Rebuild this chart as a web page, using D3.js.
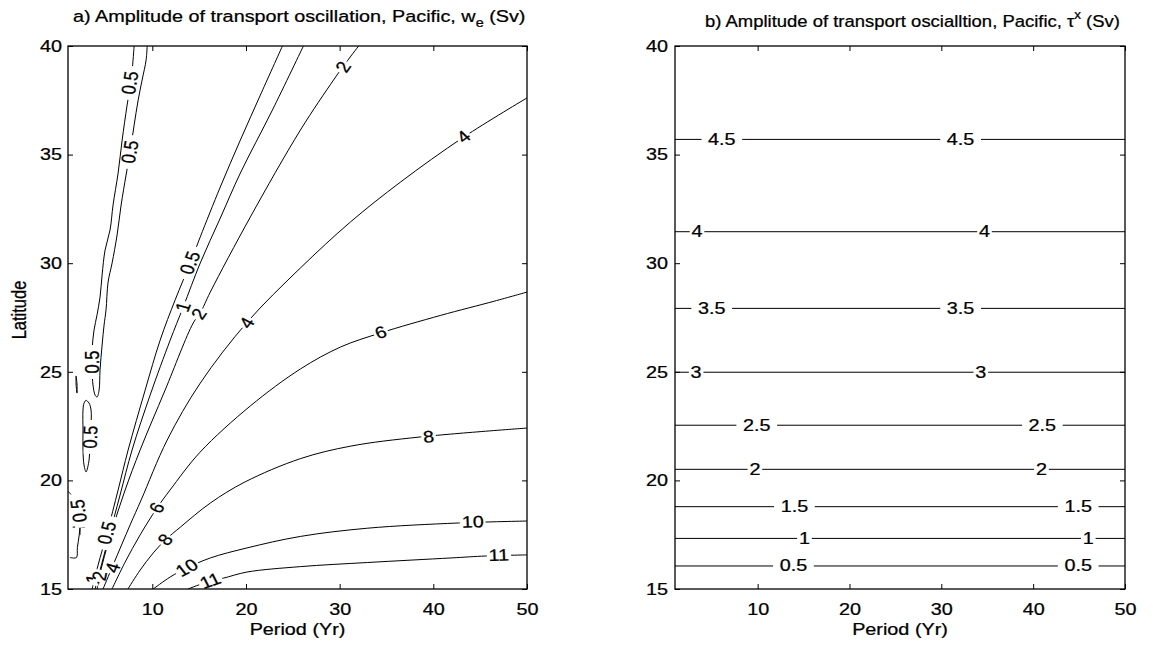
<!DOCTYPE html>
<html lang="en">
<head>
<meta charset="UTF-8">
<title>Amplitude of transport oscillation</title>
<script src="https://cdn.jsdelivr.net/npm/d3@7"></script>
<style>
  body { margin: 0; background: #fff; }
  svg { display: block; }
  text { font-family: "Liberation Sans", Arial, Helvetica, sans-serif; font-size: 16.5px; fill: #000; stroke: #000; stroke-width: 0.25px; }
</style>
</head>
<body>
<svg id="chart" width="1153" height="647"></svg>
<script>
// axes ticks
const periodTicks = [10, 20, 30, 40, 50];
const latTicks = [15, 20, 25, 30, 35, 40];

// panel a) contour lines, [period (yr), latitude]
const c05Tongue = [[8.06,40],[7.74,38.43],[7.31,37.28],[6.78,35.67],[6.35,34.15],[5.81,32.68],[5.49,31.53],[4.96,30.61],[4.64,29.46],[4.42,28.44],[4.1,27.62],[3.78,26.92],[3.57,26.0],[3.57,25.08],[3.67,24.39],[3.89,23.93],[4.1,23.84],[4.32,24.16],[4.42,25.08],[4.64,26.23],[4.85,27.15],[5.06,27.85],[5.28,29.13],[5.71,30.01],[6.24,31.3],[6.67,32.68],[7.2,34.06],[7.63,35.12],[8.06,36.36],[8.49,37.51],[8.91,38.43],[9.34,39.36],[9.45,40]];
const c05Dash = [[1.86,24.81],[1.96,24.44],[1.96,24.02],[1.86,24.44],[1.86,24.81]];
const c05Loop = [[2.93,23.7],[3.25,23.56],[3.46,23.24],[3.46,22.55],[3.35,21.63],[3.25,20.94],[2.93,20.39],[2.71,20.71],[2.6,21.4],[2.6,22.32],[2.6,23.24],[2.71,23.56],[2.93,23.7]];
const c05Edge = [[1,19.5],[1.6,19.2],[2.1,18.7],[2.3,18.1],[2.2,17.5],[2.0,16.9],[1.9,16.45],[1.2,16.45]];
const crossH = [[1.5,17.85],[2.8,17.85]];
const crossV = [[2.28,18.27],[2.28,17.49]];
const c05 = [[3.57,15],[4.21,16.1],[5.17,17.58],[6.35,19.56],[7.42,21.4],[9.24,24.16],[10.84,26.46],[12.44,28.31],[14.05,30.01],[15.12,31.21],[17.26,33.51],[19.4,35.67],[21.64,37.84],[23.89,40]];
const c1 = [[3.89,15],[4.42,15.87],[5.28,17.26],[6.56,19.33],[7.84,21.4],[9.77,23.93],[11.91,26.46],[13.3,27.98],[15.12,30.01],[17.26,32.08],[19.4,34.15],[22.82,37.05],[26.13,40]];
const c2 = [[4.1,15],[4.64,16.1],[5.71,17.72],[7.1,19.56],[8.7,21.4],[11.37,24.16],[14.37,27.25],[15.12,27.71],[16.19,28.67],[20.47,32.13],[25.81,36.13],[29.34,38.43],[30.41,39.08],[32.02,40]];
const c4 = [[4.74,15],[5.81,16.1],[7.63,17.95],[8.81,19.1],[11.59,21.86],[15.12,24.48],[20.14,27.29],[25.81,29.78],[31.16,31.9],[36.51,33.74],[43.25,35.81],[50,37.61]];
const c6 = [[5.7,15],[7.1,16.24],[8.7,17.49],[10.5,18.73],[11.9,19.56],[15.1,21.3],[20.47,23.43],[25.81,25.13],[30.09,26.14],[34.37,26.79],[40.8,27.6],[46.5,28.25],[50,28.67]];
const c8 = [[7.4,15],[8.7,15.87],[10.1,16.66],[11.4,17.26],[13.0,17.85],[16.2,18.96],[19.9,19.93],[25.8,21.0],[31.2,21.58],[38.6,22.0],[50,22.41]];
const c10 = [[10.1,15],[11.9,15.55],[13.7,15.97],[16.2,16.43],[20.1,16.89],[25.8,17.42],[33,17.8],[42.7,18.04],[50,18.13]];
const c11 = [[13.8,15],[16.2,15.37],[17.6,15.5],[20.1,15.78],[25.8,16.03],[33,16.22],[41.9,16.43],[45.6,16.52],[50,16.57]];

// panel a) contour labels: [text, line, period, latitude]
const weLabels = [
  ['0.5', 'c05Tongue', 7.63, 38.3], ['0.5', 'c05Tongue', 7.63, 35.12], ['0.5', 'c05Tongue', 3.57, 25.45],
  ['0.5', 'c05Loop', 3.4, 22.0], ['0.5', 'c05Edge', 2.15, 18.6],
  ['0.5', 'c05', 14.05, 30.01], ['0.5', 'c05', 5.17, 17.58],
  ['1', 'c1', 13.3, 27.98], ['1', 'c1', 3.7, 15.45],
  ['2', 'c2', 30.4, 39.03], ['2', 'c2', 15.0, 27.66], ['2', 'c2', 4.4, 15.6],
  ['4', 'c4', 43.25, 35.81], ['4', 'c4', 20.1, 27.25], ['4', 'c4', 5.8, 15.97],
  ['6', 'c6', 34.4, 26.8], ['6', 'c6', 10.5, 18.73],
  ['8', 'c8', 39.5, 22.0], ['8', 'c8', 11.4, 17.26],
  ['10', 'c10', 44.2, 18.08], ['10', 'c10', 13.7, 15.97],
  ['11', 'c11', 47.0, 16.55], ['11', 'c11', 16.2, 15.37]
];

// panel b) levels, their latitude, and the two label periods
const tauLevels = ['0.5', '1', '1.5', '2', '2.5', '3', '3.5', '4', '4.5'];
const tauLat = [16.06, 17.33, 18.79, 20.51, 22.54, 24.98, 27.92, 31.45, 35.70];
const tauLabelP1 = [13.9, 15.1, 14.0, 9.7, 9.9, 3.3, 5.0, 3.4, 6.1];
const tauLabelP2 = [44.9, 46.0, 44.9, 40.9, 41.0, 34.3, 32.1, 34.7, 32.1];

const SX = 1.2; // glyphs in the picture are stretched sideways
const svg = d3.select('#chart');
const y = d3.scaleLinear().domain([15, 40]).range([589, 46]);
const xA = d3.scaleLinear().domain([1, 50]).range([68, 527]);
const xB = d3.scaleLinear().domain([1, 50]).range([675, 1125]);

function drawAxes(x, pad) {
  const g = svg.append('g');
  const [top, bottom] = [y.range()[1], y.range()[0]];
  g.append('g').attr('transform', `translate(0,${bottom})`)
    .call(d3.axisBottom(x).tickValues(periodTicks).tickSizeInner(-5).tickSizeOuter(0).tickPadding(14));
  g.append('g').attr('transform', `translate(0,${top})`)
    .call(d3.axisTop(x).tickValues(periodTicks).tickSizeInner(-5).tickSizeOuter(0).tickFormat(''));
  g.append('g').attr('class', 'yl').attr('transform', `translate(${x.range()[0]},0)`)
    .call(d3.axisLeft(y).tickValues(latTicks).tickSizeInner(-5).tickSizeOuter(0).tickPadding(pad));
  g.append('g').attr('transform', `translate(${x.range()[1]},0)`)
    .call(d3.axisRight(y).tickValues(latTicks).tickSizeInner(-5).tickSizeOuter(0).tickFormat(''));
  g.selectAll('.domain').remove();
  g.selectAll('.tick line').attr('stroke', '#000');
  g.selectAll('.tick text').attr('fill', '#000').attr('transform', `scale(${SX},1)`);
  g.selectAll('.yl .tick text').attr('x', -pad / SX);
  svg.append('rect')
    .attr('x', x.range()[0]).attr('y', top)
    .attr('width', x.range()[1] - x.range()[0]).attr('height', bottom - top)
    .attr('fill', 'none').attr('stroke', '#000').attr('stroke-width', 1.3);
}

function addLabel(g, txt, px, py, ang) {
  const lg = g.append('g').attr('transform', `translate(${px},${py}) scale(${SX},1) rotate(${ang})`);
  const r = lg.append('rect').attr('fill', '#fff');
  const t = lg.append('text').attr('text-anchor', 'middle').attr('dominant-baseline', 'central').text(txt);
  const w = t.node().getComputedTextLength();
  const pad = txt.includes('.') ? 5.5 : 1.5;
  r.attr('x', -w / 2 - pad).attr('y', -5).attr('width', w + 2 * pad).attr('height', 10);
}

function labelAngle(pts, px, py) {
  let best = Infinity, ang = 0;
  for (let i = 0; i < pts.length - 1; i++) {
    const [x1, y1] = pts[i], [x2, y2] = pts[i + 1];
    const dx = x2 - x1, dy = y2 - y1;
    const len2 = dx * dx + dy * dy || 1;
    const t = Math.max(0, Math.min(1, ((px - x1) * dx + (py - y1) * dy) / len2));
    const ex = x1 + t * dx - px, ey = y1 + t * dy - py;
    const d = ex * ex + ey * ey;
    if (d < best) { best = d; ang = Math.atan2(dy, dx / SX) * 180 / Math.PI; }
  }
  // keep text upright, near-vertical lines read upward
  if (ang > 75) ang -= 180;
  if (ang <= -105) ang += 180;
  return ang;
}

// clip areas
const defs = svg.append('defs');
[['clipA', xA], ['clipB', xB]].forEach(([id, x]) => {
  defs.append('clipPath').attr('id', id).append('rect')
    .attr('x', x.range()[0]).attr('y', y.range()[1])
    .attr('width', x.range()[1] - x.range()[0]).attr('height', y.range()[0] - y.range()[1]);
});

// ---- panel a
const linesA = { c05Tongue, c05Dash, c05Loop, c05Edge, crossH, crossV, c05, c1, c2, c4, c6, c8, c10, c11 };
const lineA = d3.line().x(d => xA(d[0])).y(d => y(d[1])).curve(d3.curveCatmullRom.alpha(0.5));
const gA = svg.append('g').attr('clip-path', 'url(#clipA)');
gA.selectAll('path').data(Object.values(linesA)).join('path')
  .attr('d', lineA).attr('fill', 'none').attr('stroke', '#000').attr('stroke-width', 1);
const labA = svg.append('g');
weLabels.forEach(([txt, key, p, lat]) => {
  const pts = linesA[key].map(d => [xA(d[0]), y(d[1])]);
  addLabel(labA, txt, xA(p), y(lat), labelAngle(pts, xA(p), y(lat)));
});
drawAxes(xA, 6);

// ---- panel b
const lineB = d3.line().x(d => xB(d[0])).y(d => y(d[1]));
const gB = svg.append('g').attr('clip-path', 'url(#clipB)');
gB.selectAll('path').data(tauLat).join('path')
  .attr('d', lat => lineB([[xB.domain()[0], lat], [xB.domain()[1], lat]]))
  .attr('fill', 'none').attr('stroke', '#000').attr('stroke-width', 1);
const labB = svg.append('g');
tauLevels.forEach((lev, i) => {
  addLabel(labB, lev, xB(tauLabelP1[i]), y(tauLat[i]), 0);
  addLabel(labB, lev, xB(tauLabelP2[i]), y(tauLat[i]), 0);
});
drawAxes(xB, 7);

// ---- titles and axis labels
function title(x0, yb, parts, target) {
  const t = svg.append('text').attr('text-anchor', 'start');
  parts.forEach(([s, size, dy]) => {
    t.append('tspan').attr('font-size', size ? size + 'px' : null).attr('dy', dy || 0).text(s);
  });
  const w = t.node().getComputedTextLength();
  const sx = target ? target / w : SX;
  t.attr('transform', `translate(${x0},${yb}) scale(${sx},1)`);
}
title(73, 22, [['a) Amplitude of transport oscillation, Pacific, w'], ['e', 12, 5], [' (Sv)', 16.5, -5]], null);
title(705, 27, [['b) Amplitude of transport oscialltion, Pacific, \u03C4'], ['x', 12, -8], [' (Sv)', 16.5, 8]], 415);

[xA, xB].forEach(x => {
  svg.append('text').attr('text-anchor', 'middle')
    .attr('transform', `translate(${(x.range()[0] + x.range()[1]) / 2},635) scale(${SX},1)`)
    .text('Period (Yr)');
});
svg.append('text').attr('text-anchor', 'middle')
  .attr('transform', `translate(26,310) scale(${SX},1) rotate(-90)`)
  .text('Latitude');
</script>
</body>
</html>
